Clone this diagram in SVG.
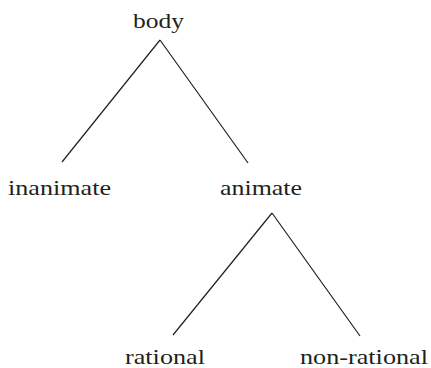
<svg xmlns="http://www.w3.org/2000/svg" width="431" height="368" viewBox="0 0 431 368">
<style>
.lbl{font-family:"Liberation Serif","Times New Roman",serif;font-size:22px;fill:#231f20}
.edge{stroke:#231f20;stroke-width:1.2;fill:none}
</style>
<rect width="431" height="368" fill="#fff"/>
<g id="connectors">
<line class="edge" x1="160" y1="40" x2="62" y2="162"/>
<line class="edge" x1="160" y1="40" x2="248" y2="163"/>
<line class="edge" x1="272" y1="213" x2="173" y2="335"/>
<line class="edge" x1="272" y1="213" x2="360" y2="336"/>
</g>
<g id="body"><text class="lbl" x="133" y="28" textLength="51" lengthAdjust="spacingAndGlyphs">body</text></g>
<g id="inanimate"><text class="lbl" x="8" y="195" textLength="103" lengthAdjust="spacingAndGlyphs">inanimate</text></g>
<g id="animate"><text class="lbl" x="220" y="195" textLength="82" lengthAdjust="spacingAndGlyphs">animate</text></g>
<g id="rational"><text class="lbl" x="125" y="364" textLength="80" lengthAdjust="spacingAndGlyphs">rational</text></g>
<g id="non-rational"><text class="lbl" x="300" y="364" textLength="128" lengthAdjust="spacingAndGlyphs">non-rational</text></g>
</svg>
